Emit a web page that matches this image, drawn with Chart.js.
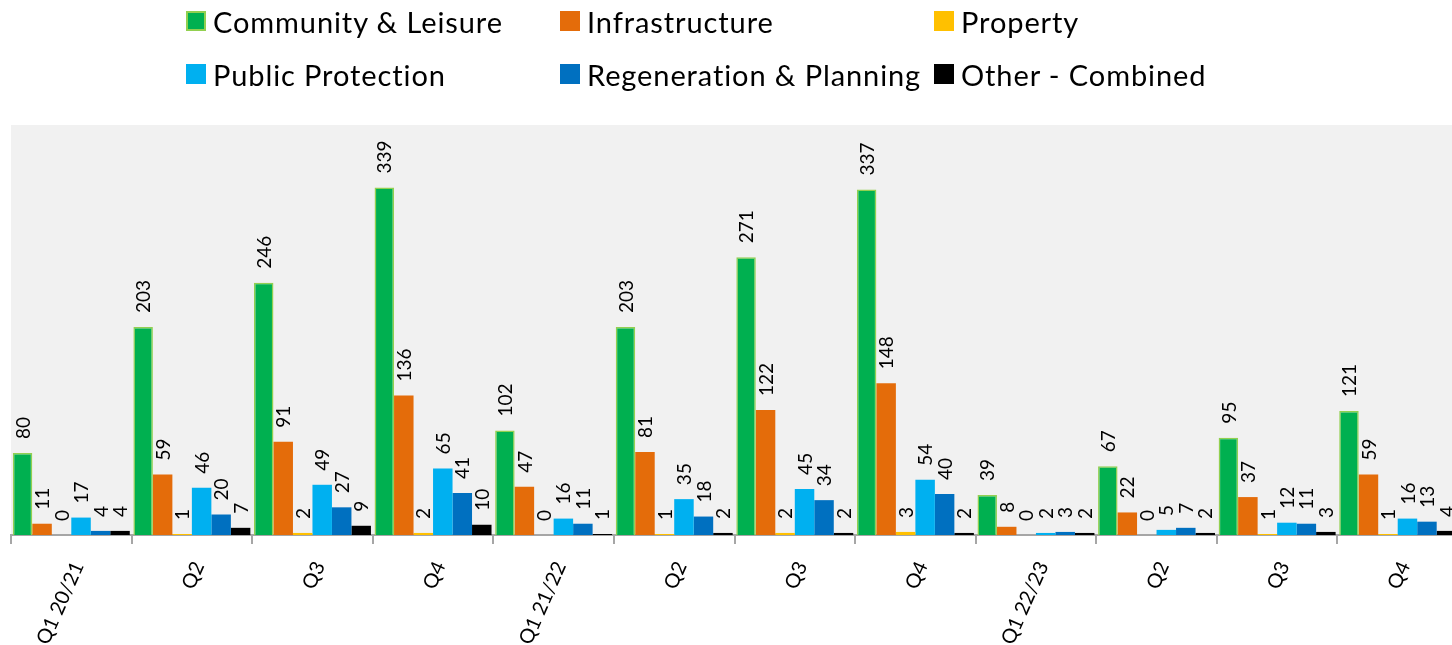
<!DOCTYPE html>
<html>
<head>
<meta charset="utf-8">
<script src="https://cdn.jsdelivr.net/npm/chart.js@4"></script>
<style>
    html, body { margin: 0; padding: 0; background: #fff; overflow: hidden; }
    body { width: 1452px; height: 645px; position: relative; font-family: Lato, 'Open Sans', sans-serif; }
    #chart-wrap { position: absolute; left: 0; top: 0; width: 1458px; height: 645px; }
    #legend { position: absolute; left: 186px; top: 5px; display: grid; grid-template-columns: 374px 374px 374px; row-gap: 21px; }
    .legend-item { display: flex; align-items: center; height: 32px; font-size: 29px; letter-spacing: 0.9px; color: #000; white-space: nowrap; }
    .legend-box { width: 20px; height: 20px; margin-right: 7px; box-sizing: border-box; flex: none; }
</style>
</head>
<body>
<div id="chart-wrap"><canvas id="chart"></canvas></div>
<div id="legend"></div>
<script>
const categories = ['Q1 20/21', 'Q2', 'Q3', 'Q4', 'Q1 21/22', 'Q2', 'Q3', 'Q4', 'Q1 22/23', 'Q2', 'Q3', 'Q4'];
const seriesNames = ['Community & Leisure', 'Infrastructure', 'Property', 'Public Protection', 'Regeneration & Planning', 'Other - Combined'];

const communityLeisure = [80, 203, 246, 339, 102, 203, 271, 337, 39, 67, 95, 121];
const infrastructure = [11, 59, 91, 136, 47, 81, 122, 148, 8, 22, 37, 59];
const property = [0, 1, 2, 2, 0, 1, 2, 3, 0, 0, 1, 1];
const publicProtection = [17, 46, 49, 65, 16, 35, 45, 54, 2, 5, 12, 16];
const regenerationPlanning = [4, 20, 27, 41, 11, 18, 34, 40, 3, 7, 11, 13];
const otherCombined = [4, 7, 9, 10, 1, 2, 2, 2, 2, 2, 3, 4];

const seriesData = [communityLeisure, infrastructure, property, publicProtection, regenerationPlanning, otherCombined];
const colors = ['#00b050', '#e46c0a', '#ffc000', '#00b0f0', '#0070c0', '#000000'];
const borders = ['#92d050', '#e46c0a', '#ffc000', '#00b0f0', '#0070c0', '#000000'];

// gray plot background
const plotBg = {
    id: 'plotBg',
    beforeDraw(chart) {
        const { ctx, chartArea: a } = chart;
        ctx.save();
        ctx.fillStyle = '#f1f1f1';
        ctx.fillRect(a.left, a.top, a.right - a.left, a.bottom - a.top);
        ctx.restore();
    }
};

// vertical value labels above each bar
const valueLabels = {
    id: 'valueLabels',
    afterDatasetsDraw(chart) {
        const ctx = chart.ctx;
        ctx.save();
        ctx.font = '19px Lato, sans-serif';
        ctx.fillStyle = '#000';
        ctx.textAlign = 'left';
        ctx.textBaseline = 'middle';
        chart.data.datasets.forEach((ds, i) => {
            chart.getDatasetMeta(i).data.forEach((bar, j) => {
                ctx.save();
                ctx.translate(bar.x, bar.y - 14);
                ctx.rotate(-Math.PI / 2);
                ctx.fillText(String(ds.data[j]), 0, 1);
                ctx.restore();
            });
        });
        ctx.restore();
    }
};

const chart = new Chart(document.getElementById('chart'), {
    type: 'bar',
    data: {
        labels: categories,
        datasets: seriesNames.map((name, i) => ({
            label: name,
            data: seriesData[i],
            backgroundColor: colors[i],
            borderColor: borders[i],
            borderWidth: i === 0 ? 1.5 : 0,
            categoryPercentage: 0.97,
            barPercentage: 1.0
        }))
    },
    options: {
        responsive: true,
        maintainAspectRatio: false,
        animation: false,
        layout: { padding: { top: 125, left: 11, right: 0, bottom: 0 } },
        plugins: {
            legend: { display: false },
            tooltip: { enabled: false }
        },
        scales: {
            x: {
                offset: true,
                grid: { display: true, drawOnChartArea: false, drawTicks: true, tickLength: 9, color: '#a6a6a6', lineWidth: 2, offset: true },
                border: { display: true, color: '#a6a6a6', width: 2 },
                ticks: {
                    color: '#000',
                    font: { family: 'Lato, sans-serif', size: 20 },
                    minRotation: 66,
                    maxRotation: 66,
                    padding: 14,
                    labelOffset: 7
                },
                afterFit(scale) { scale.height = 110; scale.paddingLeft = 0; scale.paddingRight = 0; }
            },
            y: {
                display: false,
                min: 0,
                max: 400
            }
        }
    },
    plugins: [plotBg, valueLabels]
});

// HTML legend in a 3-column grid
const legendEl = document.getElementById('legend');
chart.data.datasets.forEach(ds => {
    const item = document.createElement('div');
    item.className = 'legend-item';
    const box = document.createElement('span');
    box.className = 'legend-box';
    box.style.background = ds.backgroundColor;
    if (ds.borderWidth) box.style.border = '2px solid ' + ds.borderColor;
    const txt = document.createElement('span');
    txt.innerText = ds.label;
    item.appendChild(box);
    item.appendChild(txt);
    legendEl.appendChild(item);
});
</script>
</body>
</html>
